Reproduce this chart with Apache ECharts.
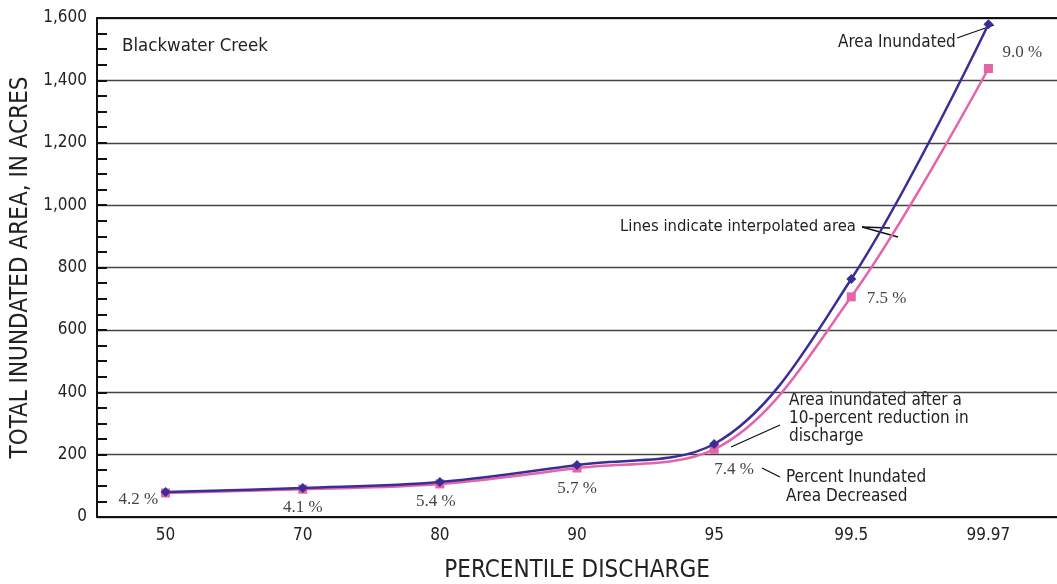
<!DOCTYPE html>
<html>
<head>
<meta charset="utf-8">
<script src="https://cdn.jsdelivr.net/npm/echarts@6/dist/echarts.min.js"></script>
<style>
  html, body { margin: 0; padding: 0; background: #fff; }
  #chart { width: 1057px; height: 584px; }
</style>
</head>
<body>
<div id="chart"></div>
<script>
// Percentile discharge categories
const categories = ['50', '70', '80', '90', '95', '99.5', '99.97'];
// Total inundated area, acres
const areaInundated = [80, 93, 112, 167, 234, 763, 1580];
// Area inundated after a 10-percent reduction in discharge, acres
const areaReduced = [77, 89, 106, 157, 217, 706, 1438];
// Percent inundated area decreased
const pctDecreased = ['4.2', '4.1', '5.4', '5.7', '7.4', '7.5', '9.0'];
// Y-axis tick labels
const yTicks = [0, 200, 400, 600, 800, 1000, 1200, 1400, 1600];

const condensed = "'Liberation Sans Narrow', 'DejaVu Sans Condensed', sans-serif";
const serif = "'Liberation Serif', 'DejaVu Serif', serif";
const blue = '#3a2e96';
const pink = '#e563a8';

// Placement of each percent label around its point
const pctPlacement = [
  { position: 'left', offset: [2, 7] },
  { position: 'bottom', offset: [0, 0] },
  { position: 'bottom', offset: [-4, 0] },
  { position: 'bottom', offset: [0, 2] },
  { position: 'bottom', offset: [20, 2] },
  { position: 'right', offset: [6, 2] },
  { position: 'top', offset: [34, 2] }
];

const reducedData = areaReduced.map((v, i) => ({
  value: v,
  label: {
    show: true,
    position: pctPlacement[i].position,
    offset: pctPlacement[i].offset,
    formatter: pctDecreased[i] + ' %'
  }
}));

const chart = echarts.init(document.getElementById('chart'));
chart.setOption({
  animation: false,
  grid: { left: 97, right: 0, top: 18, bottom: 67, outerBoundsMode: 'none', containLabel: false },
  xAxis: [{
    type: 'category',
    data: categories,
    boundaryGap: true,
    axisLine: { lineStyle: { color: '#111', width: 2 } },
    axisTick: { inside: true, alignWithLabel: true, length: 9, lineStyle: { color: '#111', width: 2 } },
    axisLabel: { color: '#222', fontFamily: condensed, fontSize: 17, margin: 10 },
    name: 'PERCENTILE DISCHARGE',
    nameLocation: 'middle',
    nameGap: 42,
    nameTextStyle: { color: '#222', fontFamily: condensed, fontSize: 24 }
  }, {
    type: 'category',
    data: categories,
    position: 'top',
    boundaryGap: true,
    axisLine: { lineStyle: { color: '#111', width: 2 } },
    axisTick: { inside: true, alignWithLabel: true, length: 7, lineStyle: { color: '#111', width: 2 } },
    axisLabel: { show: false }
  }],
  yAxis: {
    type: 'value',
    min: yTicks[0],
    max: yTicks[yTicks.length - 1],
    interval: 200,
    axisLine: { show: true, lineStyle: { color: '#111', width: 2 } },
    axisTick: { show: true, inside: true, length: 10, lineStyle: { color: '#111', width: 2 } },
    minorTick: { show: true, splitNumber: 4, length: 10, lineStyle: { color: '#111', width: 2 } },
    splitLine: { show: true, lineStyle: { color: '#444', width: 1.3 } },
    axisLabel: {
      color: '#222', fontFamily: condensed, fontSize: 17, margin: 10,
      formatter: v => v.toLocaleString('en-US')
    },
    name: 'TOTAL INUNDATED AREA, IN ACRES',
    nameLocation: 'middle',
    nameGap: 63,
    nameTextStyle: { color: '#222', fontFamily: condensed, fontSize: 24 }
  },
  series: [{
    name: 'Area inundated after a 10-percent reduction in discharge',
    type: 'line',
    data: reducedData,
    smooth: 0.35,
    symbol: 'rect',
    symbolSize: 9,
    lineStyle: { color: pink, width: 2.5 },
    itemStyle: { color: pink },
    label: { color: '#444', fontFamily: serif, fontSize: 17 },
    z: 2
  }, {
    name: 'Area Inundated',
    type: 'line',
    data: areaInundated,
    smooth: 0.35,
    symbol: 'diamond',
    symbolSize: 10,
    lineStyle: { color: blue, width: 2.5 },
    itemStyle: { color: blue },
    z: 3
  }],
  graphic: [
    { type: 'text', left: 122, top: 37, style: { text: 'Blackwater Creek', font: "18.5px " + condensed, fill: '#222' } },
    { type: 'text', left: 838, top: 34, style: { text: 'Area Inundated', font: "17px " + condensed, fill: '#222' } },
    { type: 'line', shape: { x1: 957, y1: 38, x2: 994, y2: 25 }, style: { stroke: '#111', lineWidth: 1.3 } },
    { type: 'text', left: 620, top: 218, style: { text: 'Lines indicate interpolated area', font: "16.5px " + condensed, fill: '#222' } },
    { type: 'line', shape: { x1: 862, y1: 227, x2: 890, y2: 228 }, style: { stroke: '#111', lineWidth: 1.3 } },
    { type: 'line', shape: { x1: 862, y1: 227, x2: 898, y2: 237 }, style: { stroke: '#111', lineWidth: 1.3 } },
    { type: 'text', left: 789, top: 392, style: { text: 'Area inundated after a\n10-percent reduction in\ndischarge', font: "17px " + condensed, lineHeight: 18, fill: '#222' } },
    { type: 'line', shape: { x1: 731, y1: 447, x2: 780, y2: 425 }, style: { stroke: '#111', lineWidth: 1.3 } },
    { type: 'line', shape: { x1: 762, y1: 468, x2: 780, y2: 477 }, style: { stroke: '#111', lineWidth: 1.3 } },
    { type: 'text', left: 786, top: 468, style: { text: 'Percent Inundated\nArea Decreased', font: "17px " + condensed, lineHeight: 19, fill: '#222' } }
  ]
});
</script>
</body>
</html>
